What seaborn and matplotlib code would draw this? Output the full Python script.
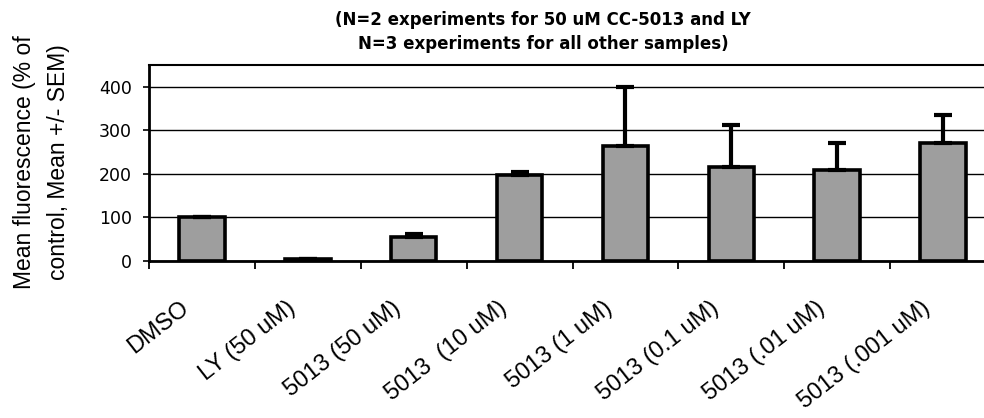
import numpy as np
import pandas as pd
import matplotlib
matplotlib.use("Agg")
import matplotlib.pyplot as plt
import matplotlib.transforms as mtransforms
from matplotlib.ticker import FixedLocator
import seaborn as sns

# Treatment groups and their mean fluorescence (% of DMSO control) with SEM
samples = ["DMSO", "LY (50 uM)", "5013 (50 uM)", "5013  (10 uM)", "5013 (1 uM)",
           "5013 (0.1 uM)", "5013 (.01 uM)", "5013 (.001 uM)"]
mean_fluorescence = [100, 4, 54, 198, 263, 215, 210, 271]
sem_fluorescence = [0, 1, 8, 7, 137, 98, 61, 64]
y_ticks = [0, 100, 200, 300, 400]

title = ("(N=2 experiments for 50 uM CC-5013 and LY\n"
         "N=3 experiments for all other samples)")
y_label = "Mean fluorescence (% of\ncontrol, Mean +/- SEM)"

df = pd.DataFrame({"sample": samples, "mean": mean_fluorescence, "sem": sem_fluorescence})

sns.set_theme(style="white")
plt.rcParams["font.family"] = ["DejaVu Sans"]
plt.rcParams["text.color"] = "black"
plt.rcParams["axes.labelcolor"] = "black"
plt.rcParams["xtick.color"] = "black"
plt.rcParams["ytick.color"] = "black"

W, H, DPI = 984, 418, 100
fig = plt.figure(figsize=(W / DPI, H / DPI), dpi=DPI)
left_px, right_px, top_px, bottom_px = 149, 996, 65, 261
ax = fig.add_axes([left_px / W, 1 - bottom_px / H,
                   (right_px - left_px) / W, (bottom_px - top_px) / H])

bar_width = 0.43
sns.barplot(data=df, x="sample", y="mean", color="#9e9e9e", saturation=1,
            edgecolor="black", linewidth=2.6, width=bar_width,
            errorbar=None, ax=ax, zorder=2)

# upper-only SEM whiskers
positions = np.arange(len(samples))
ax.errorbar(positions, df["mean"], yerr=[np.zeros(len(samples)), df["sem"]],
            fmt="none", ecolor="black", elinewidth=3, capsize=6.5, capthick=3,
            zorder=3)

ax.set_xlim(-0.5, len(samples) - 0.5)
ax.set_ylim(0, 450)
ax.set_yticks(y_ticks)
ax.set_yticklabels([str(t) for t in y_ticks], fontsize=12.5, color="black")

# horizontal gridlines behind the bars
ax.set_axisbelow(True)
ax.yaxis.grid(True, color="black", linewidth=1.0)
ax.xaxis.grid(False)

# tick marks between categories on x, outward ticks on y
ax.xaxis.set_minor_locator(FixedLocator(np.arange(-0.5, len(samples), 1.0)))
ax.tick_params(axis="x", which="minor", length=6, width=1.3, color="black",
               direction="out", bottom=True)
ax.tick_params(axis="x", which="major", length=0, pad=26)
ax.tick_params(axis="y", which="major", left=True, length=4.5, width=1.2,
               color="black", direction="out", pad=8)

ax.set_xticks(positions)
ax.set_xticklabels(samples, rotation=38, ha="right", va="top",
                   rotation_mode="anchor", fontsize=17,
                   family=["Liberation Sans", "DejaVu Sans"], color="black")
shift = mtransforms.ScaledTranslation(-22 / DPI, 0, fig.dpi_scale_trans)
for lbl in ax.get_xticklabels():
    lbl.set_transform(lbl.get_transform() + shift)

ax.set_xlabel("")
ax.set_ylabel(y_label, fontsize=16.5, family=["Liberation Sans", "DejaVu Sans"],
              linespacing=1.6, va="center", ha="center", color="black")
ax.yaxis.set_label_coords((41.5 - left_px) / (right_px - left_px),
                          (bottom_px - 162) / (bottom_px - top_px))

ax.set_title(title, fontsize=12, fontweight="bold", linespacing=1.45,
             color="black",
             x=(543 - left_px) / (right_px - left_px),
             y=(bottom_px - 32) / (bottom_px - top_px), va="center", pad=0)

for side in ["left", "top", "right", "bottom"]:
    ax.spines[side].set_visible(True)
    ax.spines[side].set_color("black")
ax.spines["left"].set_linewidth(2.0)
ax.spines["bottom"].set_linewidth(2.0)
ax.spines["top"].set_linewidth(1.5)
ax.spines["right"].set_linewidth(1.5)

fig.savefig("out.png", dpi=DPI)
